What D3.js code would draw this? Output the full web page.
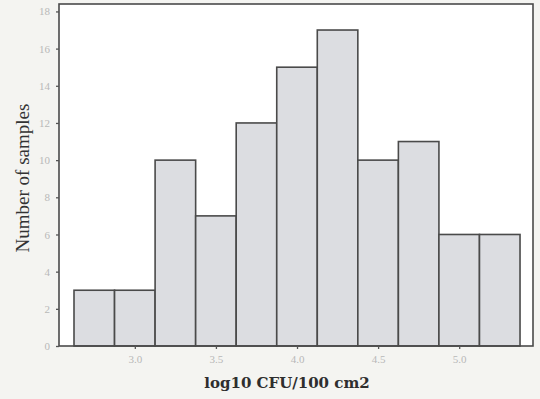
<!DOCTYPE html>
<html>
<head>
<meta charset="utf-8">
<script src="https://cdn.jsdelivr.net/npm/d3@7"></script>
<style>
  body { margin: 0; background: #f4f4f1; }
  svg { display: block; }
</style>
</head>
<body>
<div id="chart"></div>
<script>
// histogram bins (centers) and counts
const binCenters = [2.75, 3.0, 3.25, 3.5, 3.75, 4.0, 4.25, 4.5, 4.75, 5.0, 5.25];
const counts = [3, 3, 10, 7, 12, 15, 17, 10, 11, 6, 6];
const binWidth = 0.25;
const xTicks = [3.0, 3.5, 4.0, 4.5, 5.0];
const yTicks = [0, 2, 4, 6, 8, 10, 12, 14, 16, 18];

const width = 540, height = 399;
const plotLeft = 59, plotRight = 533, plotTop = 4, plotBottom = 346;

const svg = d3.select("#chart").append("svg")
    .attr("width", width)
    .attr("height", height);

const x = d3.scaleLinear().domain([2.5325, 5.455]).range([plotLeft, plotRight]);
const y = d3.scaleLinear().domain([0, 18.4]).range([plotBottom, plotTop]);

// plot area
svg.append("rect")
    .attr("x", plotLeft).attr("y", plotTop)
    .attr("width", plotRight - plotLeft).attr("height", plotBottom - plotTop)
    .attr("fill", "#ffffff");

// bars
svg.selectAll("rect.bar")
    .data(counts)
    .enter().append("rect")
    .attr("class", "bar")
    .attr("x", (d, i) => x(binCenters[i] - binWidth / 2))
    .attr("width", (d, i) => x(binCenters[i] + binWidth / 2) - x(binCenters[i] - binWidth / 2))
    .attr("y", d => y(d))
    .attr("height", d => y(0) - y(d))
    .attr("fill", "#dcdde1")
    .attr("stroke", "#4a4a4a")
    .attr("stroke-width", 1.6);

// frame
svg.append("rect")
    .attr("x", plotLeft).attr("y", plotTop)
    .attr("width", plotRight - plotLeft).attr("height", plotBottom - plotTop)
    .attr("fill", "none")
    .attr("stroke", "#4a4a4a")
    .attr("stroke-width", 1.6);

// axes
const yAxis = svg.append("g")
    .attr("transform", `translate(${plotLeft},0)`)
    .call(d3.axisLeft(y).tickValues(yTicks).tickSize(3).tickPadding(6));
const xAxis = svg.append("g")
    .attr("transform", `translate(0,${plotBottom})`)
    .call(d3.axisBottom(x).tickValues(xTicks).tickSize(3).tickPadding(6).tickFormat(d3.format(".1f")));

[yAxis, xAxis].forEach(g => {
    g.select(".domain").remove();
    g.selectAll(".tick line").attr("stroke", "#555").attr("stroke-width", 1.3);
    g.selectAll(".tick text")
        .attr("fill", "#b8b8b8")
        .style("font-family", "'Liberation Serif', serif")
        .style("font-size", "11px");
});

// axis titles
svg.append("text")
    .attr("transform", `translate(29,178) rotate(-90)`)
    .attr("text-anchor", "middle")
    .attr("fill", "#333")
    .style("font-family", "'Liberation Serif', serif")
    .style("font-size", "19px")
    .text("Number of samples");

svg.append("text")
    .attr("x", 287)
    .attr("y", 388)
    .attr("text-anchor", "middle")
    .attr("fill", "#2e2e2e")
    .style("font-family", "'DejaVu Serif', serif")
    .style("font-size", "15px")
    .style("font-weight", "bold")
    .text("log10 CFU/100 cm2");
</script>
</body>
</html>
